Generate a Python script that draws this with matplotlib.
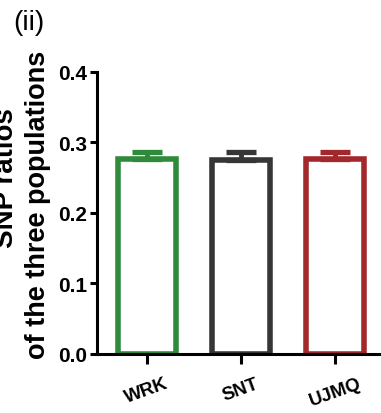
import matplotlib.pyplot as plt

plt.rcParams['font.family'] = ['Liberation Sans', 'DejaVu Sans']

groups = ['WRK', 'SNT', 'UJMQ']
means = [0.277, 0.275, 0.276]
errs = [0.010, 0.012, 0.010]
colours = ['#2f8a3b', '#363636', '#a3282b']

fig = plt.figure(figsize=(3.81, 4.14), dpi=100)
ax = fig.add_axes([0.255, 0.143, 0.745, 0.681])

xs = list(range(len(groups)))
for x, m, e, c in zip(xs, means, errs, colours):
    ax.bar(x, m, width=0.61, facecolor='white', edgecolor=c, linewidth=4, zorder=2)
    ax.errorbar(x, m, yerr=[[0], [e]], color=c, elinewidth=3.5, capsize=11,
                capthick=3.8, zorder=3)

ax.set_xlim(-0.53, 2.49)
ax.set_ylim(0, 0.4)
ax.set_yticks([0.0, 0.1, 0.2, 0.3, 0.4])
ax.set_yticklabels(['0.0', '0.1', '0.2', '0.3', '0.4'], fontsize=15, fontweight='bold')
ax.set_xticks(xs)
ax.set_xticklabels(groups, fontsize=13.5, fontweight='bold', rotation=20)

for side in ['top', 'right']:
    ax.spines[side].set_visible(False)
ax.spines['left'].set_linewidth(2.2)
ax.spines['bottom'].set_linewidth(2.2)
ax.tick_params(axis='y', width=2.2, length=5, pad=2)
ax.tick_params(axis='x', width=2.2, length=7, pad=8)

# first line sits partly outside the figure, as in the source panel
fig.text(0.017, 0.57, 'SNP ratios', rotation=90, ha='center', va='center',
         fontsize=20, fontweight='bold')
fig.text(0.1, 0.505, 'of the three populations', rotation=90, ha='center',
         va='center', fontsize=19.5, fontweight='bold')
fig.text(0.035, 0.945, '(ii)', fontsize=20, ha='left', va='center')

fig.savefig('out.png', dpi=100)
